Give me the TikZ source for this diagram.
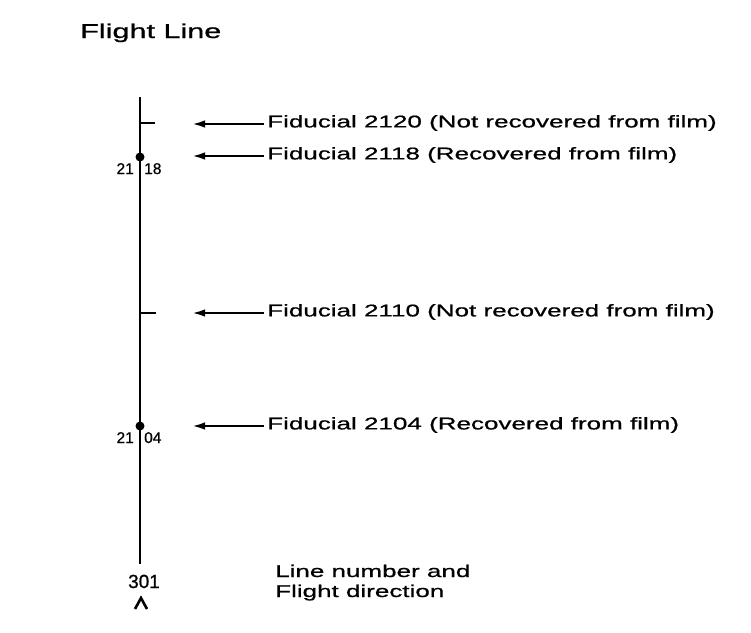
\documentclass[tikz,border=0pt]{standalone}
\usepackage{fontspec}
\setmainfont{Liberation Sans}[FakeBold=0.8]
\newfontfamily\widefont[FakeStretch=1.53,FakeBold=0.8]{Liberation Sans}
\usetikzlibrary{arrows.meta}
\begin{document}
\begin{tikzpicture}[x=1pt,y=-1pt,
  lbl/.style={font=\widefont\fontsize{17}{20}\selectfont, anchor=west, inner sep=0pt},
  smalllbl/.style={font=\fontsize{15.5}{18}\selectfont, inner sep=0pt},
  fidarrow/.style={-{Latex[length=13pt,width=7.5pt]}, line width=2.2pt},
  flightline/.style={line width=2.4pt},
  tickmark/.style={line width=2.2pt},
  dirmark/.style={line width=2.6pt},
  dotmark/.style={circle, fill=black, inner sep=0pt, minimum size=9pt}]
\useasboundingbox (0,0) rectangle (751,632);
\fill[white] (0,0) rectangle (751,632);

% title
\node[font=\widefont\fontsize{20}{24}\selectfont, anchor=base west, inner sep=0pt] (title) at (80,38) {Flight Line};

% flight line
\coordinate (ltop) at (140,97);
\coordinate (lbot) at (140,564);
\draw[flightline] (ltop) -- (lbot);

% ticks (not recovered)
\coordinate (tk1a) at (140,123);
\coordinate (tk1b) at (155,123);
\coordinate (tk2a) at (140,313);
\coordinate (tk2b) at (156,313);
\draw[tickmark] (tk1a) -- (tk1b);
\draw[tickmark] (tk2a) -- (tk2b);

% dots (recovered)
\node[dotmark] (d1) at (140,157) {};
\node[dotmark] (d2) at (140,426) {};

\node[smalllbl, anchor=base east] (l1a) at (134,174) {21};
\node[smalllbl, anchor=base west] (l1b) at (144,174) {18};
\node[smalllbl, anchor=base east] (l2a) at (134,443) {21};
\node[smalllbl, anchor=base west] (l2b) at (144,443) {04};

% fiducial labels
\node[lbl] (f1) at (267,123) {Fiducial 2120 (Not recovered from film)};
\node[lbl] (f2) at (267,155) {Fiducial 2118 (Recovered from film)};
\node[lbl] (f3) at (267,312) {Fiducial 2110 (Not recovered from film)};
\node[lbl] (f4) at (267,425) {Fiducial 2104 (Recovered from film)};

\coordinate (a1) at (192,124);
\coordinate (a2) at (192,156);
\coordinate (a3) at (192,313);
\coordinate (a4) at (192,426);
\draw[fidarrow] (f1.west |- a1) ++(-3,0) -- (a1);
\draw[fidarrow] (f2.west |- a2) ++(-3,0) -- (a2);
\draw[fidarrow] (f3.west |- a3) ++(-3,0) -- (a3);
\draw[fidarrow] (f4.west |- a4) ++(-3,0) -- (a4);

% line number and direction
\node[font=\fontsize{19}{22}\selectfont, anchor=base, inner sep=0pt] (num) at (144,588) {301};
\coordinate (dl) at (135,609);
\coordinate (dt) at (141,598);
\coordinate (dr) at (147,609);
\draw[dirmark] (dl) -- (dt) -- (dr);
\node[lbl, anchor=base west] (ln1) at (275,577) {Line number and};
\node[lbl, anchor=base west] (ln2) at (275,597) {Flight direction};
\end{tikzpicture}
\end{document}
